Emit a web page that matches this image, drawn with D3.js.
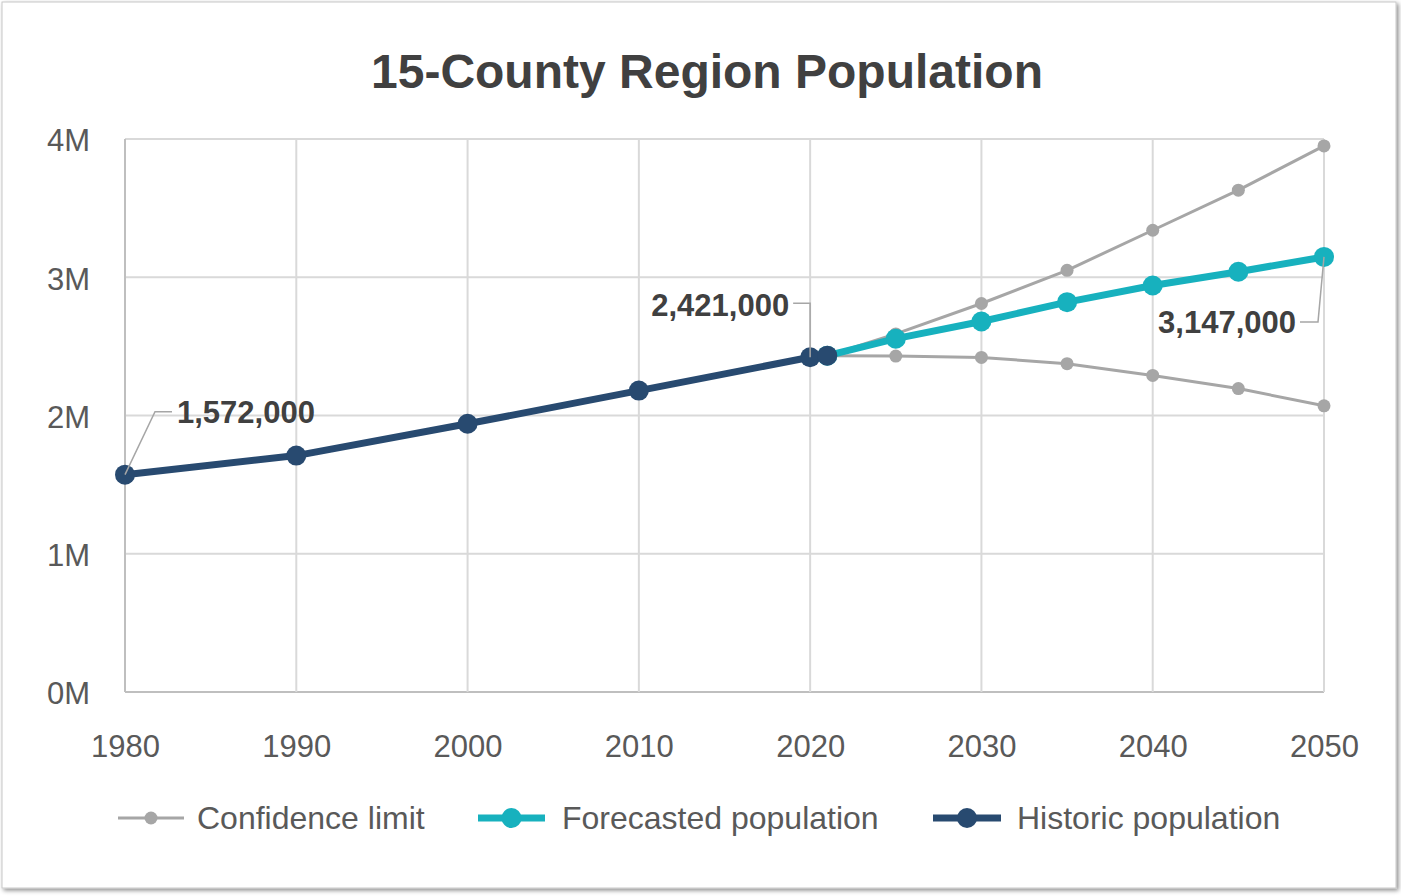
<!DOCTYPE html>
<html><head><meta charset="utf-8">
<script src="https://cdn.jsdelivr.net/npm/d3@7"></script>
<style>
html,body{margin:0;padding:0;background:#fff;}
svg{display:block;font-family:"Liberation Sans",Arial,sans-serif;}
</style></head>
<body>
<svg id="chart" width="1401" height="896"></svg>
<script>
const title = "15-County Region Population";
const xTicks = [1980,1990,2000,2010,2020,2030,2040,2050];
const yTicks = [0,1,2,3,4];
const yTickLabels = ["0M","1M","2M","3M","4M"];

const historicYears = [1980,1990,2000,2010,2020,2021];
const historicValues = [1.572,1.71,1.94,2.18,2.421,2.433];

const forecastYears = [2021,2025,2030,2035,2040,2045,2050];
const forecastValues = [2.433,2.556,2.68,2.82,2.94,3.04,3.147];

const upperYears = [2021,2025,2030,2035,2040,2045,2050];
const upperValues = [2.433,2.59,2.81,3.05,3.34,3.63,3.95];
const lowerYears = [2021,2025,2030,2035,2040,2045,2050];
const lowerValues = [2.433,2.43,2.42,2.375,2.29,2.195,2.07];

const legendLabels = ["Confidence limit","Forecasted population","Historic population"];
const colors = {conf:"#a6a6a6", fore:"#17b1be", hist:"#284a70"};

const svg = d3.select("#chart");

// frame with shadow
const defs = svg.append("defs");
const f = defs.append("filter").attr("id","sh").attr("x","-2%").attr("y","-2%").attr("width","104%").attr("height","104%");
f.append("feDropShadow").attr("dx",2).attr("dy",2).attr("stdDeviation",2).attr("flood-color","#000").attr("flood-opacity",0.45);
svg.append("rect").attr("x",2).attr("y",2).attr("width",1394).attr("height",886)
  .attr("fill","#fff").attr("stroke","#c8c8c8").attr("stroke-width",1).attr("filter","url(#sh)");

const x = d3.scaleLinear().domain([1980,2050]).range([125,1324]);
const y = d3.scaleLinear().domain([0,4]).range([692,139]);

// title
svg.append("text").attr("x",707).attr("y",88).attr("text-anchor","middle")
  .attr("font-size",48).attr("font-weight","bold").attr("fill","#404040").text(title);

// gridlines
const g = svg.append("g");
g.selectAll(".hg").data(yTicks).join("line")
  .attr("x1",x(1980)).attr("x2",x(2050)).attr("y1",d=>y(d)).attr("y2",d=>y(d))
  .attr("stroke",d=>d===0?"#bfbfbf":"#d9d9d9").attr("stroke-width",2);
g.selectAll(".vg").data(xTicks).join("line")
  .attr("x1",d=>x(d)).attr("x2",d=>x(d)).attr("y1",y(4)).attr("y2",y(0))
  .attr("stroke",d=>d===1980?"#bfbfbf":"#d9d9d9").attr("stroke-width",2);

// axis labels
const yAxis = d3.axisLeft(y).tickValues(yTicks).tickFormat((d,i)=>yTickLabels[i]).tickSize(0).tickPadding(35);
const ya = svg.append("g").attr("transform",`translate(${x(1980)},0)`).call(yAxis);
ya.select(".domain").remove();
ya.selectAll("text").attr("font-size",31).attr("fill","#595959").attr("font-family","Liberation Sans, Arial, sans-serif").attr("dy","0.38em");

const xAxis = d3.axisBottom(x).tickValues(xTicks).tickFormat(d3.format("d")).tickSize(0).tickPadding(43);
const xa = svg.append("g").attr("transform",`translate(0,${y(0)})`).call(xAxis);
xa.select(".domain").remove();
xa.selectAll("text").attr("font-size",31).attr("fill","#595959").attr("font-family","Liberation Sans, Arial, sans-serif");

const line = d3.line().x(d=>x(d[0])).y(d=>y(d[1]));
function series(years, vals, color, w, r){
  const data = years.map((yr,i)=>[yr,vals[i]]);
  svg.append("path").datum(data).attr("d",line).attr("fill","none")
    .attr("stroke",color).attr("stroke-width",w).attr("stroke-linejoin","round");
  svg.append("g").selectAll("circle").data(data).join("circle")
    .attr("cx",d=>x(d[0])).attr("cy",d=>y(d[1])).attr("r",r).attr("fill",color);
}
series(upperYears, upperValues, colors.conf, 3, 6.5);
series(lowerYears, lowerValues, colors.conf, 3, 6.5);
series(forecastYears, forecastValues, colors.fore, 7, 10);
series(historicYears, historicValues, colors.hist, 7, 10);

// data labels with leaders
const fmt = d3.format(",");
function callout(pts, tx, ty, anchor, value){
  svg.append("polyline").attr("points",pts.map(p=>p.join(",")).join(" "))
    .attr("fill","none").attr("stroke","#a6a6a6").attr("stroke-width",1.5);
  svg.append("text").attr("x",tx).attr("y",ty).attr("text-anchor",anchor)
    .attr("font-size",31).attr("font-weight","bold").attr("fill","#404040")
    .attr("dominant-baseline","central").text(fmt(value));
}
{
  const px=x(1980), py=y(historicValues[0]);
  callout([[px,py],[px+30,py-63],[px+47,py-63]], px+52, py-62, "start", Math.round(historicValues[0]*1e6));
}
{
  const px=x(2020), py=y(historicValues[4]);
  callout([[px,py],[px,py-54],[px-17,py-54]], px-21, py-52, "end", Math.round(historicValues[4]*1e6));
}
{
  const px=x(2050), py=y(forecastValues[6]);
  callout([[px,py],[px-6,py+65],[px-24,py+65]], px-28, py+66, "end", Math.round(forecastValues[6]*1e6));
}

// legend
const legend = [
  {label:legendLabels[0], color:colors.conf, w:3, r:6.5, x1:118, x2:184, tx:197},
  {label:legendLabels[1], color:colors.fore, w:7, r:10, x1:478, x2:545, tx:562},
  {label:legendLabels[2], color:colors.hist, w:7, r:10, x1:933, x2:1001, tx:1017}
];
const ly = 818;
const lg = svg.append("g");
legend.forEach(l=>{
  lg.append("line").attr("x1",l.x1).attr("x2",l.x2).attr("y1",ly).attr("y2",ly)
    .attr("stroke",l.color).attr("stroke-width",l.w);
  lg.append("circle").attr("cx",(l.x1+l.x2)/2).attr("cy",ly).attr("r",l.r).attr("fill",l.color);
  lg.append("text").attr("x",l.tx).attr("y",ly).attr("dominant-baseline","central")
    .attr("font-size",32).attr("fill","#595959").text(l.label);
});
</script>
</body></html>
